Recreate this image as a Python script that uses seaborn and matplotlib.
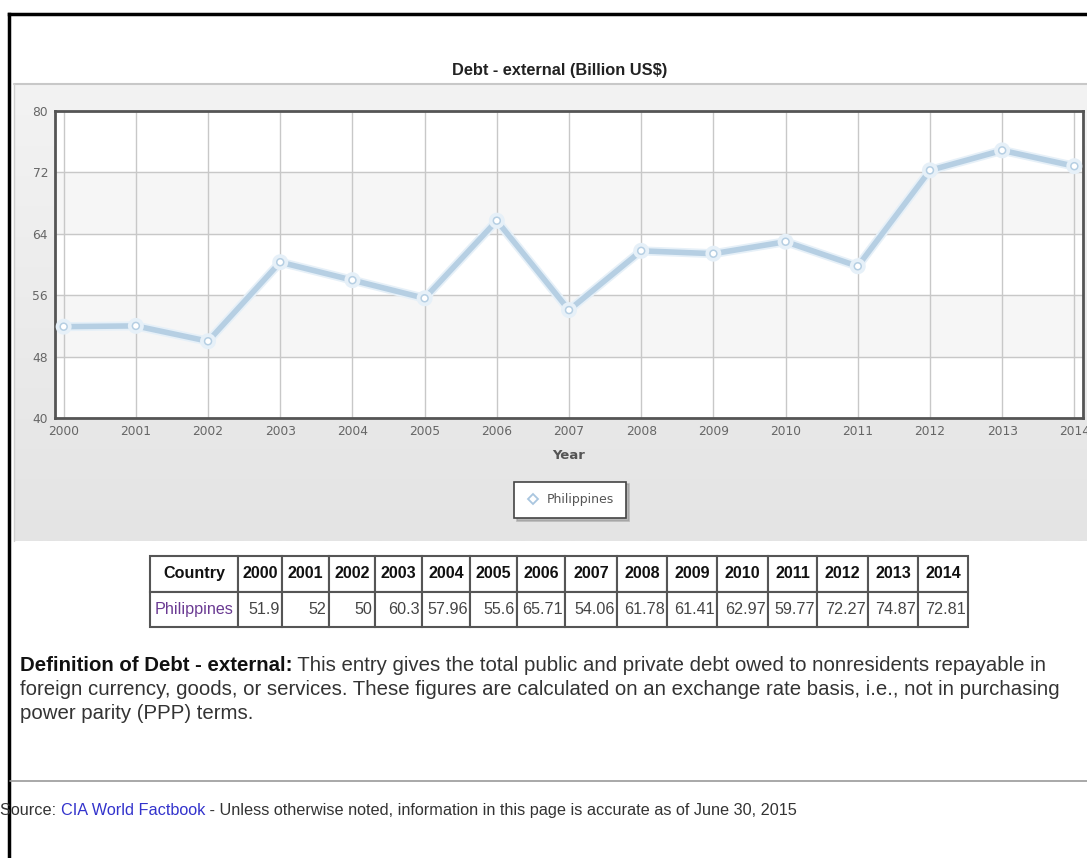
import numpy as np
import pandas as pd
import matplotlib
matplotlib.use("Agg")
import matplotlib.pyplot as plt
import matplotlib.patheffects as pe
from matplotlib.lines import Line2D
import seaborn as sns

years = [2000, 2001, 2002, 2003, 2004, 2005, 2006, 2007, 2008, 2009, 2010, 2011, 2012, 2013, 2014]
debt = [51.9, 52, 50, 60.3, 57.96, 55.6, 65.71, 54.06, 61.78, 61.41, 62.97, 59.77, 72.27, 74.87, 72.81]
debt_labels = ["51.9", "52", "50", "60.3", "57.96", "55.6", "65.71", "54.06", "61.78",
               "61.41", "62.97", "59.77", "72.27", "74.87", "72.81"]
country = "Philippines"
y_ticks = [40, 48, 56, 64, 72, 80]

df = pd.DataFrame({"Year": years, "Debt": debt, "Country": country})

sns.set_style("white")
plt.rcParams["font.family"] = ["Liberation Sans", "DejaVu Sans"]

W, H = 1087, 858
fig = plt.figure(figsize=(W / 100, H / 100), dpi=100)

# overlay in pixel coordinates for the page furniture
ov = fig.add_axes([0, 0, 1, 1], zorder=0)
ov.axis("off")
grad = np.linspace(0, 1, 256).reshape(-1, 1)
ov.imshow(grad, extent=[14, W, 541, 84], aspect="auto",
          cmap=matplotlib.colors.LinearSegmentedColormap.from_list("g", ["#f3f3f3", "#e4e4e4"]),
          origin="upper")
ov.plot([14, W], [84, 84], color="#c8c8c8", lw=1.5)
ov.plot([14, 14], [84, 541], color="#d0d0d0", lw=1)
ov.plot([9, W], [14, 14], color="black", lw=2.5, solid_capstyle="projecting")
ov.plot([9, 9], [14, H], color="black", lw=2.5, solid_capstyle="projecting")
ov.plot([10, W], [781, 781], color="#999999", lw=1.2)
ov.set_xlim(0, W)
ov.set_ylim(H, 0)

ov.text(560, 70, "Debt - external (Billion US\\$)", ha="center", va="center",
        fontsize=11.8, weight="bold", color="#222222")

# main chart
ax = fig.add_axes([55 / W, 1 - 418 / H, (1083 - 55) / W, (418 - 111) / H], zorder=2)
ax.set_facecolor("white")
for lo, hi in [(48, 56), (64, 72)]:
    ax.axhspan(lo, hi, color="#f6f6f6", zorder=0)

sns.lineplot(data=df, x="Year", y="Debt", ax=ax, color="#b6cfe3", lw=4,
             marker="o", markersize=5, markerfacecolor="white",
             markeredgecolor="#b6cfe3", markeredgewidth=1.1, zorder=3, legend=False,
             path_effects=[pe.Stroke(linewidth=6.5, foreground="#e6f0f8"), pe.Normal()])

ax.set_xlim(1999.88, 2014.12)
ax.set_ylim(40, 80)
ax.set_xticks(years)
ax.set_yticks(y_ticks)
ax.grid(True, color="#c8c8c8", lw=1, zorder=1)
ax.set_axisbelow(True)
for s in ax.spines.values():
    s.set_color("#555555")
    s.set_linewidth(2)
ax.tick_params(length=0, labelsize=8.8, labelcolor="#666666", pad=5)
for lab in ax.get_xticklabels() + ax.get_yticklabels():
    lab.set_family("DejaVu Sans")
ax.set_xlabel("Year", fontsize=9.5, weight="bold", color="#555555", family="DejaVu Sans", labelpad=8)
ax.set_ylabel("")

handle = Line2D([], [], ls="none", marker="D", markersize=5, markerfacecolor="white",
                markeredgecolor="#a9c6df", markeredgewidth=1.3)
leg = fig.legend([handle], [country], loc="center", bbox_to_anchor=(570 / W, 1 - 500 / H),
                 fancybox=False, shadow={"color": "#999999", "alpha": 0.6, "ox": 2, "oy": -2},
                 frameon=True, handlelength=1.2, borderpad=0.95, handletextpad=0.5,
                 prop={"family": "DejaVu Sans", "size": 9})
leg.get_frame().set_edgecolor("#444444")
leg.get_frame().set_linewidth(1.2)
for t in leg.get_texts():
    t.set_color("#555555")

# data table
col_px = [88, 44, 47, 46, 47, 48, 47, 48, 52, 50, 50, 51, 49, 51, 50, 50]
tax = fig.add_axes([150 / W, 1 - 627 / H, sum(col_px) / W, (627 - 556) / H], zorder=1)
tax.axis("off")
header = ["Country"] + [str(y) for y in years]
row = [country] + debt_labels
tab = tax.table(cellText=[row], colLabels=header, colWidths=[c / sum(col_px) for c in col_px],
                bbox=[0, 0, 1, 1], cellLoc="right")
tab.auto_set_font_size(False)
for (r, c), cell in tab.get_celld().items():
    cell.set_edgecolor("#555555")
    cell.set_linewidth(1.5)
    cell.set_facecolor("white")
    cell.PAD = 0.05
    txt = cell.get_text()
    txt.set_fontsize(11.6)
    if r == 0:
        txt.set_weight("bold")
        txt.set_ha("center")
        cell._loc = "center"
        txt.set_color("#111111")
    else:
        txt.set_color("#444444")
        if c == 0:
            txt.set_color("#6a3a92")
            cell._loc = "center"

# definition text
fs = 14.7
t1 = ov.text(20, 671, "Definition of Debt - external:", fontsize=fs, weight="bold",
             color="#111111", va="baseline")
ov.annotate(" This entry gives the total public and private debt owed to nonresidents repayable in",
            xy=(1, 0), xycoords=t1, va="bottom", fontsize=fs, color="#333333")
ov.text(20, 695, "foreign currency, goods, or services. These figures are calculated on an exchange "
        "rate basis, i.e., not in purchasing", fontsize=fs, color="#333333", va="baseline")
ov.text(20, 719, "power parity (PPP) terms.", fontsize=fs, color="#333333", va="baseline")

# source line
sfs = 11.7
s1 = ov.text(0, 815, "Source: ", fontsize=sfs, color="#333333", va="baseline")
s2 = ov.annotate("CIA World Factbook", xy=(1, 0), xycoords=s1, va="bottom",
                 fontsize=sfs, color="#3333cc")
ov.annotate(" - Unless otherwise noted, information in this page is accurate as of June 30, 2015",
            xy=(1, 0), xycoords=s2, va="bottom", fontsize=sfs, color="#333333")

fig.savefig("out.png", dpi=100)
